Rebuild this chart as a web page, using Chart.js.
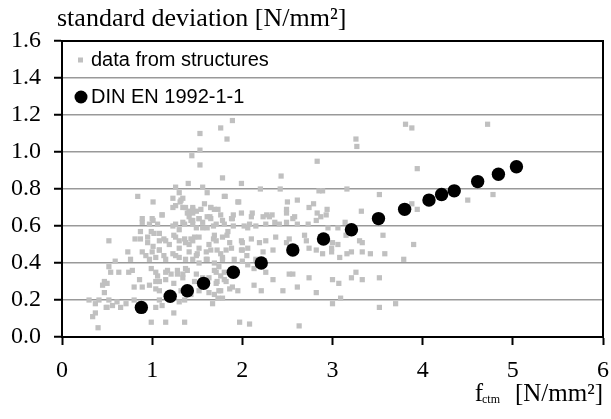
<!DOCTYPE html>
<html>
<head>
<meta charset="utf-8">
<script src="https://cdn.jsdelivr.net/npm/chart.js@4.4.1/dist/chart.umd.min.js"></script>
<style>
html,body{margin:0;padding:0;background:#fff;}
#wrap{width:611px;height:419px;position:relative;}
</style>
</head>
<body>
<div id="wrap"><canvas id="c" width="611" height="419"></canvas></div>
<script>
// ---- data ----
const structX = [
1.76,1.53,1.83,1.53,1.44,1.53,1.78,1.40,0.84,1.26,1.56,1.30,1.61,1.81,1.34,1.31,1.26,1.23,1.37,1.41,1.45,1.49,1.54,1.65,1.69,1.73,1.11,1.00,0.89,1.52,1.61,1.41,
1.89,2.83,2.43,1.99,2.20,2.42,2.85,2.89,1.96,2.50,2.61,2.74,2.79,2.94,2.83,2.11,2.49,2.49,2.10,1.90,1.89,2.23,2.27,2.33,2.58,2.87,2.93,
3.81,3.88,3.26,3.27,3.94,3.16,3.52,3.32,3.88,3.94,4.72,4.50,4.78,
3.14,2.95,3.06,3.15,3.30,3.33,3.56,3.90,2.87,3.00,3.06,2.99,2.99,2.89,3.08,3.16,3.21,3.33,3.42,3.58,3.79,3.26,3.21,3.00,3.07,3.33,3.52,3.09,3.00,3.52,3.70,
2.30,1.45,1.56,1.65,1.71,1.78,1.49,1.61,2.08,2.15,2.26,2.36,2.41,2.49,2.56,2.61,2.73,2.82,2.02,1.84,
1.45,1.52,1.69,1.71,1.78,1.86,2.00,2.10,2.19,2.26,2.37,2.49,2.52,2.71,2.74,2.82,2.69,1.99,2.06,1.50,1.60,1.65,1.76,1.82,2.23,2.34,
1.45,1.52,1.61,1.69,1.74,1.78,2.00,2.06,2.13,2.15,2.26,2.34,2.52,2.56,2.74,2.61,2.45,2.21,2.13,2.82,1.71,1.76,1.82,1.86,1.63,1.71,1.76,1.69,1.73,1.78,1.67,1.63,1.95,1.97,2.08,2.63,
0.89,0.97,1.06,1.26,1.36,1.43,1.39,1.45,1.30,
0.87,0.87,0.81,0.52,0.95,1.02,1.08,0.95,1.08,1.15,1.26,1.30,1.37,1.43,
0.73,0.76,0.89,0.93,1.00,1.08,1.13,1.23,1.30,1.41,0.97,0.59,
0.52,0.63,0.54,0.74,0.78,0.86,0.99,1.06,1.15,1.21,1.28,1.34,1.39,1.08,0.47,0.45,0.50,0.80,0.89,0.97,1.04,0.47,
0.30,0.37,0.41,0.52,0.56,0.61,0.65,0.71,0.80,0.50,1.04,1.11,1.08,1.30,1.36,1.43,0.37,0.34,0.99,1.15,1.36,1.24,0.40,0.49,
1.01,1.23,1.32,1.34,1.45,1.58,1.80,1.95,
1.11,1.01,1.41,1.52,1.64,1.65,1.76,1.88,1.99,1.34,1.45,1.23,0.99,1.56,1.68,1.80,1.90,2.06,
1.13,1.24,1.36,1.47,1.68,1.83,1.99,1.01,1.08,1.19,1.30,1.41,1.52,1.63,1.72,1.88,2.00,1.04,1.15,1.26,1.37,1.49,1.60,1.78,1.91,2.05,
1.04,1.17,1.28,1.37,1.49,1.69,1.80,1.04,1.15,1.24,1.34,1.47,1.56,1.72,1.80,1.08,1.32,1.52,1.74,1.89
];
const structY = [
1.13,1.10,1.07,1.01,0.98,0.93,0.86,0.83,0.76,0.81,0.81,0.78,0.78,0.76,0.75,0.73,0.71,0.70,0.70,0.68,0.67,0.68,0.69,0.70,0.69,0.69,0.66,0.64,0.64,0.64,0.65,0.65,
1.17,0.95,0.87,0.83,0.80,0.80,0.79,0.79,0.73,0.73,0.74,0.70,0.72,0.69,0.67,0.67,0.69,0.67,0.65,0.66,0.64,0.65,0.66,0.66,0.65,0.65,0.66,
1.15,1.13,1.07,1.03,0.91,0.80,0.77,0.68,0.72,0.69,1.15,0.74,0.77,
0.62,0.59,0.59,0.55,0.52,0.51,0.55,0.50,0.54,0.51,0.50,0.48,0.46,0.45,0.43,0.45,0.46,0.46,0.45,0.45,0.42,0.35,0.32,0.31,0.29,0.31,0.32,0.21,0.18,0.16,0.18,
0.65,0.63,0.62,0.64,0.61,0.63,0.59,0.59,0.61,0.60,0.61,0.62,0.61,0.62,0.64,0.61,0.61,0.63,0.60,0.57,
0.52,0.54,0.55,0.52,0.54,0.51,0.51,0.53,0.51,0.52,0.54,0.51,0.53,0.52,0.48,0.47,0.55,0.47,0.48,0.45,0.46,0.47,0.45,0.47,0.46,0.47,
0.42,0.40,0.42,0.40,0.38,0.42,0.41,0.39,0.37,0.42,0.35,0.31,0.34,0.34,0.32,0.27,0.25,0.25,0.28,0.24,0.35,0.33,0.30,0.26,0.32,0.29,0.25,0.23,0.21,0.21,0.18,0.24,0.25,0.08,0.07,0.06,
0.62,0.61,0.61,0.61,0.61,0.63,0.67,0.69,0.58,
0.57,0.53,0.53,0.52,0.54,0.56,0.56,0.51,0.52,0.52,0.54,0.52,0.51,0.53,
0.46,0.42,0.46,0.44,0.46,0.47,0.44,0.45,0.43,0.46,0.42,0.41,
0.38,0.35,0.35,0.35,0.36,0.31,0.37,0.33,0.35,0.34,0.36,0.34,0.36,0.30,0.30,0.28,0.29,0.27,0.27,0.28,0.26,0.24,
0.20,0.18,0.20,0.20,0.17,0.19,0.16,0.18,0.20,0.16,0.16,0.17,0.20,0.19,0.20,0.23,0.13,0.11,0.08,0.08,0.08,0.13,0.05,0.16,
0.73,0.75,0.74,0.70,0.70,0.72,0.76,0.73,
0.66,0.63,0.67,0.64,0.65,0.70,0.66,0.64,0.67,0.62,0.61,0.60,0.57,0.59,0.60,0.61,0.60,0.59,
0.53,0.55,0.53,0.54,0.53,0.55,0.52,0.49,0.47,0.50,0.48,0.50,0.48,0.50,0.47,0.48,0.47,0.43,0.42,0.44,0.42,0.44,0.42,0.43,0.42,0.44,
0.35,0.36,0.34,0.37,0.34,0.36,0.35,0.30,0.31,0.29,0.32,0.30,0.32,0.30,0.31,0.25,0.25,0.25,0.25,0.27
];
const dinX = [0.88,1.20,1.39,1.57,1.90,2.21,2.56,2.90,3.21,3.51,3.80,4.07,4.21,4.35,4.61,4.84,5.04];
const dinY = [0.16,0.22,0.25,0.29,0.35,0.40,0.47,0.53,0.58,0.64,0.69,0.74,0.77,0.79,0.84,0.88,0.92];
const seriesNames = ['data from structures', 'DIN EN 1992-1-1'];
const xTickLabels = ['0','1','2','3','4','5','6'];
const yTickLabels = ['0.0','0.2','0.4','0.6','0.8','1.0','1.2','1.4','1.6'];
const yAxisTitle = 'standard deviation [N/mm\u00B2]';
const xAxisTitleMain = 'f';
const xAxisTitleSub = 'ctm';
const xAxisTitleUnit = '[N/mm\u00B2]';
// --------------------------------------

const SERIF = "'Liberation Serif', 'Times New Roman', serif";
const SANS = "'Liberation Sans', Arial, sans-serif";

const structPts = structX.map((x, i) => ({x: x, y: structY[i]}));
const dinPts = dinX.map((x, i) => ({x: x, y: dinY[i]}));

const decoPlugin = {
  id: 'deco',
  afterDraw(chart) {
    const ctx = chart.ctx;
    const a = chart.chartArea;
    ctx.save();
    // plot border
    ctx.strokeStyle = '#000';
    ctx.lineWidth = 2;
    ctx.strokeRect(a.left, a.top, a.right - a.left, a.bottom - a.top);
    // y axis title (horizontal, above plot)
    ctx.fillStyle = '#000';
    ctx.textBaseline = 'alphabetic';
    ctx.textAlign = 'left';
    ctx.font = "26px " + SERIF;
    ctx.fillText(yAxisTitle, 57, 26);
    // x axis title with subscript
    ctx.font = "25px " + SERIF;
    const unitW = ctx.measureText(xAxisTitleUnit).width;
    const unitX = a.right - unitW;
    ctx.fillText(xAxisTitleUnit, unitX, 401);
    ctx.font = "12px " + SERIF;
    const subW = ctx.measureText(xAxisTitleSub).width;
    const subX = unitX - 15 - subW;
    ctx.fillText(xAxisTitleSub, subX, 403);
    ctx.font = "25px " + SERIF;
    const fW = ctx.measureText(xAxisTitleMain).width;
    ctx.fillText(xAxisTitleMain, subX - fW + 1, 401);
    // legend
    ctx.font = "20px " + SANS;
    ctx.textBaseline = 'middle';
    ctx.fillStyle = '#c0c0c0';
    ctx.fillRect(78, 57.5, 5, 5);
    ctx.fillStyle = '#000';
    ctx.fillText(seriesNames[0], 91, 60);
    ctx.beginPath();
    ctx.arc(81, 97, 6.5, 0, Math.PI * 2);
    ctx.fill();
    ctx.fillText(seriesNames[1], 91, 97);
    ctx.restore();
  }
};

new Chart(document.getElementById('c'), {
  type: 'scatter',
  data: {
    datasets: [
      {
        label: seriesNames[1],
        data: dinPts,
        pointStyle: 'circle',
        pointRadius: 6.7,
        pointHoverRadius: 6.7,
        backgroundColor: '#000',
        borderWidth: 0,
        order: 0
      },
      {
        label: seriesNames[0],
        data: structPts,
        pointStyle: 'rect',
        pointRadius: 3.7,
        pointHoverRadius: 3.7,
        backgroundColor: '#c0c0c0',
        borderWidth: 0,
        order: 1
      }
    ]
  },
  options: {
    responsive: false,
    animation: false,
    devicePixelRatio: 1,
    events: [],
    layout: { padding: { left: 0, top: 41, right: 8, bottom: 0 } },
    plugins: { legend: { display: false }, tooltip: { enabled: false }, title: { display: false } },
    scales: {
      x: {
        type: 'linear',
        min: 0, max: 6,
        ticks: {
          stepSize: 1,
          autoSkip: false,
          maxRotation: 0,
          padding: 11,
          color: '#000',
          font: { family: SERIF, size: 24 },
          callback: (v) => xTickLabels[Math.round(v)] ?? ''
        },
        grid: { drawOnChartArea: false, drawTicks: true, tickLength: 8, tickColor: '#000', tickWidth: 2 },
        border: { display: true, color: '#000', width: 2 },
        afterFit(s) { s.height = 82; s.paddingRight = 0; s.paddingLeft = 0; }
      },
      y: {
        type: 'linear',
        min: 0, max: 1.6,
        ticks: {
          stepSize: 0.2,
          autoSkip: false,
          padding: 13,
          color: '#000',
          font: { family: SERIF, size: 24 },
          callback: (v, i) => yTickLabels[i] ?? ''
        },
        grid: { color: '#999', lineWidth: 1.5, drawTicks: true, tickLength: 8, tickColor: '#000', tickWidth: 2 },
        border: { display: true, color: '#000', width: 2 },
        afterFit(s) { s.width = 62; s.paddingTop = 0; s.paddingBottom = 0; }
      }
    }
  },
  plugins: [decoPlugin]
});
</script>
</body>
</html>
